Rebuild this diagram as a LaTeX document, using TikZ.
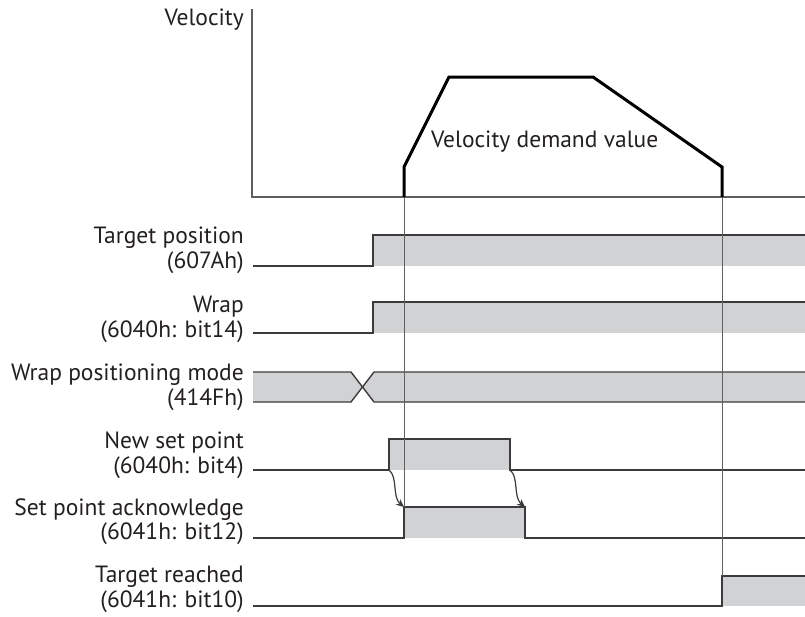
\documentclass[tikz,border=0pt]{standalone}
\usepackage{fontspec}
\setmainfont{PT Sans}
\usetikzlibrary{arrows.meta}
\definecolor{fillgray}{RGB}{209,210,212}
\definecolor{sigline}{RGB}{60,58,60}
\definecolor{guidegray}{RGB}{95,95,95}
\definecolor{txt}{RGB}{35,31,32}
\begin{document}
\begin{tikzpicture}[x=1pt,y=-1pt,
  lbl/.style={anchor=base east,inner sep=0pt,text=txt,font=\fontsize{23.5}{26}\selectfont},
  sig/.style={draw=sigline,line width=1.4pt,line join=miter},
  band/.style={fill=fillgray,draw=none},
  guide/.style={draw=guidegray,line width=1pt},
  axisline/.style={draw=guidegray,line width=1.1pt},
  profile/.style={draw=black,line width=3pt,line join=miter},
  ackarrow/.style={draw=sigline,line width=1.2pt,-{Stealth[length=8pt,width=7pt]}}]
\useasboundingbox (0,0) rectangle (805,616);

% axes
\coordinate (vtop) at (252,9);
\coordinate (orig) at (252,197);
\coordinate (hend) at (805,197);
\draw[axisline] (vtop) -- (orig) -- (hend);
\node[lbl] (vel) at (244,25) {Velocity};

% velocity profile
\coordinate (p0) at (404,197);
\coordinate (p1) at (404,167);
\coordinate (p2) at (449,77);
\coordinate (p3) at (593,77);
\coordinate (p4) at (722,167);
\coordinate (p5) at (722,197);
\draw[profile] (p0) -- (p1) -- (p2) -- (p3) -- (p4) -- (p5);
\node[anchor=base west,inner sep=0pt,text=txt,font=\fontsize{23.5}{26}\selectfont] (vdv) at (431,147) {Velocity demand value};

% Target position
\node[lbl] (tp1) at (244,243) {Target position};
\node[lbl] (tp2) at (244,268) {(607Ah)};
\fill[band] (373,235) rectangle (805,266);
\draw[sig] (253,266) -- (373,266) -- (373,235) -- (805,235);

% Wrap
\node[lbl] (wr1) at (244,312) {Wrap};
\node[lbl] (wr2) at (244,337) {(6040h: bit14)};
\fill[band] (373,302) rectangle (805,333);
\draw[sig] (253,333) -- (373,333) -- (373,302) -- (805,302);

% Wrap positioning mode
\node[lbl] (wm1) at (244,380) {Wrap positioning mode};
\node[lbl] (wm2) at (244,405) {(414Fh)};
\fill[band] (253,372) -- (351,372) -- (362.5,387) -- (351,402) -- (253,402) -- cycle;
\fill[band] (805,372) -- (374,372) -- (362.5,387) -- (374,402) -- (805,402) -- cycle;
\draw[sig] (253,372) -- (351,372) -- (374,402) -- (805,402);
\draw[sig] (253,402) -- (351,402) -- (374,372) -- (805,372);

% New set point
\node[lbl] (ns1) at (244,448) {New set point};
\node[lbl] (ns2) at (244,473) {(6040h: bit4)};
\coordinate (nsup) at (389,470);
\coordinate (nsdn) at (510,470);
\fill[band] (389,439) rectangle (510,470);
\draw[sig] (253,470) -- (nsup) -- (389,439) -- (510,439) -- (nsdn) -- (805,470);

% Set point acknowledge
\node[lbl] (sa1) at (244,515) {Set point acknowledge};
\node[lbl] (sa2) at (244,539) {(6041h: bit12)};
\coordinate (saup) at (404,507);
\coordinate (sadn) at (525,507);
\fill[band] (404,507) rectangle (525,538);
\draw[sig] (253,538) -- (404,538) -- (saup) -- (sadn) -- (525,538) -- (805,538);

% Target reached
\node[lbl] (tr1) at (244,582) {Target reached};
\node[lbl] (tr2) at (244,607) {(6041h: bit10)};
\fill[band] (722,576) rectangle (805,606);
\draw[sig] (253,606) -- (722,606) -- (722,576) -- (805,576);

% guides
\draw[guide] (p0) -- (saup);
\draw[guide] (p5) -- (722,576);

% handshake arrows
\draw[ackarrow] (nsup) .. controls (398,477) and (392,497) .. (saup);
\draw[ackarrow] (nsdn) .. controls (519,477) and (513,497) .. (sadn);
\end{tikzpicture}
\end{document}
